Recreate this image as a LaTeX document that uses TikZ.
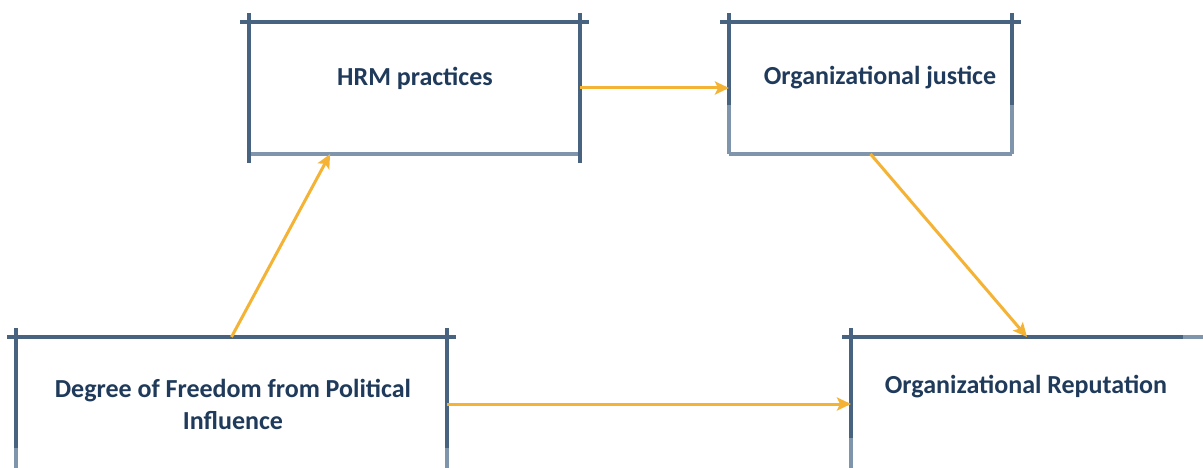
\documentclass[tikz,border=0pt]{standalone}
\usepackage{fontspec}
\setmainfont{Carlito}
\usetikzlibrary{arrows.meta,calc}
\definecolor{dk}{HTML}{47637F}
\definecolor{lt}{HTML}{7F95AB}
\definecolor{txt}{HTML}{1F3A5A}
\definecolor{orng}{HTML}{F5B335}
\tikzset{
  boxn/.style={rectangle, inner sep=0pt, outer sep=0pt},
  lbl/.style={font=\bfseries\fontsize{26}{32}\selectfont, text=txt, align=center, inner sep=0pt},
  dkl/.style={draw=dk, line width=3.8pt},
  ltl/.style={draw=lt, line width=3.8pt},
  arr/.style={draw=orng, line width=3pt, -{Stealth[length=14pt,width=13pt,inset=3pt]}}
}
\begin{document}
\begin{tikzpicture}[x=1pt,y=-1pt]
\useasboundingbox[fill=white] (0,0) rectangle (1203,468);
% box anchors
\node[boxn, minimum width=331pt, minimum height=132pt] (hrm) at (414.5,88) {};
\node[boxn, minimum width=283pt, minimum height=132pt] (oj) at (870.5,88) {};
\node[boxn, minimum width=431pt, minimum height=134pt] (deg) at (231.5,404) {};
\node[boxn, minimum width=352pt, minimum height=134pt] (rep) at (1027,404) {};
% labels
\node[lbl] (thrm) at (415,78) {HRM practices};
\node[lbl] (toj) at (880,78) {Organizational justice};
\node[lbl] (tdeg) at (233,404) {Degree of Freedom from Political\\Influence};
\node[lbl] (trep) at (1026,387) {Organizational Reputation};
% HRM box
\draw[ltl] (hrm.south west) -- (hrm.south east);
\draw[dkl] ([xshift=-9pt]hrm.north west) -- ([xshift=9pt]hrm.north east);
\draw[dkl] ([yshift=9pt]hrm.north west) -- ([yshift=-9pt]hrm.south west);
\draw[dkl] ([yshift=9pt]hrm.north east) -- ([yshift=-9pt]hrm.south east);
% OJ box
\draw[ltl] (oj.south west) -- (oj.south east);
\draw[ltl] (oj.west) -- (oj.south west);
\draw[ltl] (oj.east) -- (oj.south east);
\draw[dkl] ([xshift=-9pt]oj.north west) -- ([xshift=9pt]oj.north east);
\draw[dkl] ([yshift=9pt]oj.north west) -- ([yshift=-17pt]oj.west);
\draw[dkl] ([yshift=9pt]oj.north east) -- ([yshift=-17pt]oj.east);
% Degree box
\draw[ltl] ([yshift=-44pt]deg.west) -- (deg.south west);
\draw[ltl] ([yshift=-44pt]deg.east) -- (deg.south east);
\draw[dkl] ([xshift=-9pt]deg.north west) -- ([xshift=9pt]deg.north east);
\draw[dkl] ([yshift=9pt]deg.north west) -- ([yshift=-44pt]deg.west);
\draw[dkl] ([yshift=9pt]deg.north east) -- ([yshift=-44pt]deg.east);
% Reputation box
\draw[ltl] ([yshift=-34pt]rep.west) -- (rep.south west);
\draw[ltl] ([xshift=-20pt]rep.north east) -- (rep.north east);
\draw[dkl] ([xshift=-9pt]rep.north west) -- ([xshift=-20pt]rep.north east);
\draw[dkl] ([yshift=9pt]rep.north west) -- ([yshift=-34pt]rep.west);
% arrows
\draw[arr] (hrm.east) -- (oj.west);
\draw[arr] (deg.north) -- ($(hrm.south west)!0.245!(hrm.south east)$);
\draw[arr] (oj.south) -- (rep.north);
\draw[arr] (deg.east) -- (rep.west);
\end{tikzpicture}
\end{document}
